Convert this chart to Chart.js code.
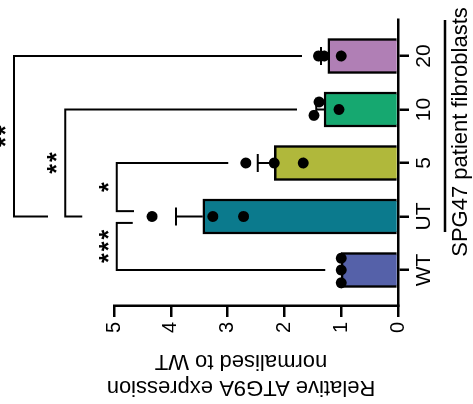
<!DOCTYPE html>
<html>
<head>
<meta charset="utf-8">
<script src="https://cdn.jsdelivr.net/npm/chart.js@4.4.1/dist/chart.umd.min.js"></script>
<style>
  html, body { margin: 0; padding: 0; background: #fff; overflow: hidden; }
  #frame { position: relative; width: 473px; height: 404px; overflow: hidden; }
  /* the chart is drawn upright, then turned a quarter turn to the left */
  #wrap {
    position: absolute; left: 0; top: 0; width: 404px; height: 473px;
    transform-origin: 0 0; transform: translate(0, 404px) rotate(-90deg);
  }
</style>
</head>
<body>
<div id="frame"><div id="wrap"><canvas id="chart" width="404" height="473"></canvas></div></div>
<script>
// Data
const categories = ["WT", "UT", "5", "10", "20"];
const pointsWT = [1.0, 1.0, 1.0];
const pointsUT = [4.33, 3.26, 2.72];
const points5 = [2.68, 2.18, 1.67];
const points10 = [1.39, 1.48, 1.04];
const points20 = [1.40, 1.30, 1.00];
const yTicks = [0, 1, 2, 3, 4, 5];

const replicates = [pointsWT, pointsUT, points5, points10, points20];
// small sideways spread of the dots inside each group
const pointSpread = [[0.22, 0, -0.24], [0, 0, 0], [0, 0, 0], [0.14, -0.11, 0], [0, 0, 0]];
const barColors = ["#5561a9", "#0b7a8d", "#b0b83b", "#16a870", "#b07fb5"];

// significance brackets (group indexes, leg ends and top in axis units)
const comparisons = [
  { a: 0, b: 1, label: "***", top: 4.95, endA: 1.28, endB: 4.67, shiftB: -0.12 },
  { a: 1, b: 2, label: "*", top: 4.95, endA: 4.65, endB: 2.99, shiftA: 0.1 },
  { a: 1, b: 3, label: "**", top: 5.86, endA: 5.56, endB: 1.78 },
  { a: 1, b: 4, label: "**", top: 6.76, endA: 6.16, endB: 1.69 },
];

const FONT = "'Liberation Sans', Arial, sans-serif";
Chart.defaults.font.family = FONT;
Chart.defaults.color = "#000";

const mean = (arr) => arr.reduce((s, v) => s + v, 0) / arr.length;
const sem = (arr) => {
  const m = mean(arr);
  const sd = Math.sqrt(arr.reduce((s, v) => s + (v - m) ** 2, 0) / (arr.length - 1));
  return sd / Math.sqrt(arr.length);
};

const scatterData = [];
replicates.forEach((pts, i) => {
  pts.forEach((v, j) => scatterData.push({ x: i + pointSpread[i][j], y: v }));
});

// SEM whiskers, only the upper half like the figure
const errorBars = {
  id: "errorBars",
  beforeDatasetsDraw(chart) {
    const { ctx, scales: { x, y } } = chart;
    ctx.save();
    ctx.strokeStyle = "#000";
    ctx.lineWidth = 2;
    replicates.forEach((pts, i) => {
      const m = mean(pts);
      const e = sem(pts);
      if (e < 0.01) return;
      const px = x.getPixelForValue(i);
      const y0 = y.getPixelForValue(m);
      const y1 = y.getPixelForValue(m + e);
      ctx.beginPath();
      ctx.moveTo(px, y0);
      ctx.lineTo(px, y1);
      ctx.moveTo(px - 9, y1);
      ctx.lineTo(px + 9, y1);
      ctx.stroke();
    });
    ctx.restore();
  },
};

const brackets = {
  id: "brackets",
  afterDraw(chart) {
    const { ctx, scales: { x, y } } = chart;
    ctx.save();
    ctx.strokeStyle = "#000";
    ctx.fillStyle = "#000";
    ctx.lineWidth = 2;
    comparisons.forEach((c) => {
      const xa = x.getPixelForValue(c.a + (c.shiftA || 0));
      const xb = x.getPixelForValue(c.b + (c.shiftB || 0));
      const yt = y.getPixelForValue(c.top);
      ctx.beginPath();
      ctx.moveTo(xa, y.getPixelForValue(c.endA));
      ctx.lineTo(xa, yt);
      ctx.lineTo(xb, yt);
      ctx.lineTo(xb, y.getPixelForValue(c.endB));
      ctx.stroke();
      ctx.font = "bold 25px " + FONT;
      ctx.letterSpacing = "2px";
      ctx.textAlign = "center";
      ctx.textBaseline = "alphabetic";
      ctx.fillText(c.label, (xa + xb) / 2 + 1, yt);
    });
    ctx.restore();
  },
};

const titles = {
  id: "titles",
  afterDraw(chart) {
    const { ctx, scales: { x } } = chart;
    ctx.save();
    ctx.fillStyle = "#000";
    // value axis title, two lines, reading upwards
    ctx.font = "22px " + FONT;
    ctx.textAlign = "center";
    ctx.textBaseline = "middle";
    ctx.translate(0, 241);
    ctx.rotate(-Math.PI / 2);
    ctx.fillText("Relative ATG9A expression", 0, 17);
    ctx.fillText("normalised to WT", 0, 43);
    ctx.restore();

    // group line and label under the patient samples
    ctx.save();
    ctx.strokeStyle = "#000";
    ctx.lineWidth = 2.5;
    ctx.beginPath();
    ctx.moveTo(x.getPixelForValue(0.71), 445);
    ctx.lineTo(x.right, 445);
    ctx.stroke();
    ctx.fillStyle = "#000";
    ctx.font = "22px " + FONT;
    ctx.textAlign = "center";
    ctx.textBaseline = "alphabetic";
    ctx.fillText("SPG47 patient fibroblasts", 272, 467);
    ctx.restore();
  },
};

const ctx = document.getElementById("chart").getContext("2d");
new Chart(ctx, {
  type: "bar",
  data: {
    datasets: [
      {
        type: "scatter",
        data: scatterData,
        pointRadius: 5.5,
        pointBackgroundColor: "#000",
        pointBorderWidth: 0,
        order: 0,
      },
      {
        type: "bar",
        data: replicates.map((pts, i) => ({ x: i, y: mean(pts) })),
        backgroundColor: barColors,
        borderColor: "#000",
        borderWidth: 2.5,
        barThickness: 35,
        order: 1,
      },
    ],
  },
  options: {
    responsive: false,
    animation: false,
    devicePixelRatio: 1,
    layout: { padding: { top: 114, right: 20, left: 0, bottom: 0 } },
    plugins: {
      legend: { display: false },
      tooltip: { enabled: false },
    },
    scales: {
      x: {
        type: "linear",
        offset: false,
        min: -0.673,
        max: 4.673,
        afterBuildTicks: (s) => {
          s.ticks = categories.map((c, i) => ({ value: i }));
        },
        afterFit: (s) => {
          s.height = 75;
        },
        grid: { offset: false, drawOnChartArea: false, drawTicks: true, tickLength: 11, color: "#000", lineWidth: 2.5 },
        border: { color: "#000", width: 2.5 },
        ticks: {
          color: "#000",
          font: { size: 21 },
          padding: 3,
          maxRotation: 0,
          autoSkip: false,
          callback: (v) => categories[v],
        },
      },
      y: {
        min: 0,
        max: 5,
        afterBuildTicks: (s) => {
          s.ticks = yTicks.map((v) => ({ value: v }));
        },
        afterFit: (s) => {
          s.width = 98;
        },
        grid: { drawOnChartArea: false, drawTicks: true, tickLength: 11, color: "#000", lineWidth: 2.5 },
        border: { color: "#000", width: 2.5 },
        ticks: { color: "#000", font: { size: 20 }, padding: 5 },
      },
    },
  },
  plugins: [errorBars, brackets, titles],
});
</script>
</body>
</html>
